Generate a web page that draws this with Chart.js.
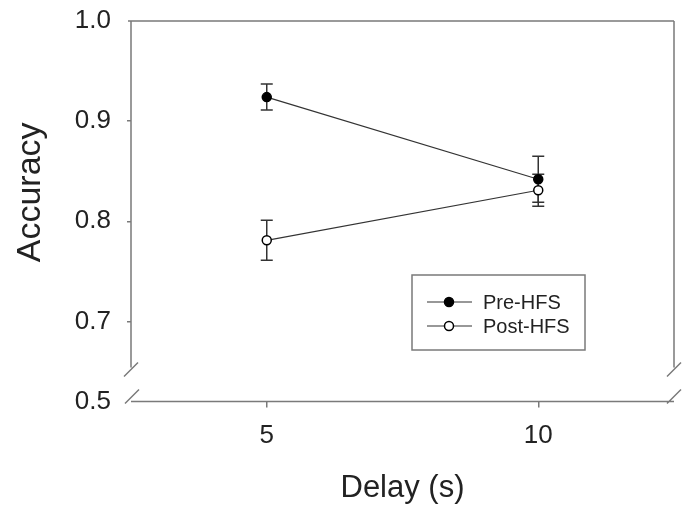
<!DOCTYPE html>
<html>
<head>
<meta charset="utf-8">
<script src="https://cdn.jsdelivr.net/npm/chart.js@4.4.1/dist/chart.umd.min.js"></script>
<style>
  html, body { margin: 0; padding: 0; background: #fff; }
  #wrap { width: 690px; height: 506px; }
</style>
</head>
<body>
<div id="wrap"><canvas id="accChart" width="690" height="506"></canvas></div>
<script>
// --- Data ---
const delays = [5, 10];
const preHFS = [0.924, 0.842];
const preErr = [0.013, 0.023];
const postHFS = [0.781, 0.831];
const postErr = [0.020, 0.016];
const yTicks = [0.62, 0.7, 0.8, 0.9, 1.0];
const yTickLabels = ['0.5', '0.7', '0.8', '0.9', '1.0'];
const xTicks = [5, 10];

const FONT = "'Liberation Sans', Arial, Helvetica, sans-serif";
const AXIS = '#7a7a7a';
const INK = '#222';

// error bars, drawn under the markers
const errorBars = {
  id: 'errorBars',
  beforeDatasetsDraw(chart) {
    const { ctx, scales: { x, y } } = chart;
    const errs = [preErr, postErr];
    ctx.save();
    ctx.strokeStyle = '#333';
    ctx.lineWidth = 1.5;
    chart.data.datasets.forEach((ds, i) => {
      ds.data.forEach((p, j) => {
        const px = x.getPixelForValue(p.x);
        const top = y.getPixelForValue(p.y + errs[i][j]);
        const bot = y.getPixelForValue(p.y - errs[i][j]);
        ctx.beginPath();
        ctx.moveTo(px, top); ctx.lineTo(px, bot);
        ctx.moveTo(px - 6, top); ctx.lineTo(px + 6, top);
        ctx.moveTo(px - 6, bot); ctx.lineTo(px + 6, bot);
        ctx.stroke();
      });
    });
    ctx.restore();
  }
};

// box frame with axis breaks
const frame = {
  id: 'frame',
  beforeDatasetsDraw(chart) {
    const { ctx, chartArea: a, scales: { y } } = chart;
    const breakY = y.getPixelForValue(0.654);
    const slash = (cx, cy) => {
      ctx.moveTo(cx - 7, cy + 7);
      ctx.lineTo(cx + 7, cy - 7);
    };
    ctx.save();
    ctx.strokeStyle = AXIS;
    ctx.lineWidth = 1.5;
    ctx.beginPath();
    // top
    ctx.moveTo(a.left - 3, a.top); ctx.lineTo(a.right, a.top);
    // left and right down to break
    ctx.moveTo(a.left, a.top); ctx.lineTo(a.left, breakY);
    ctx.moveTo(a.right, a.top); ctx.lineTo(a.right, breakY);
    // bottom
    ctx.moveTo(a.left, a.bottom); ctx.lineTo(a.right, a.bottom);
    slash(a.left, breakY + 2);
    slash(a.right, breakY + 2);
    slash(a.left + 1, a.bottom - 5);
    slash(a.right, a.bottom - 5);
    ctx.stroke();
    ctx.restore();
  }
};

// legend box
const legendBox = {
  id: 'legendBox',
  afterDatasetsDraw(chart) {
    const { ctx } = chart;
    const left = 412, top = 275, w = 173, h = 75;
    ctx.save();
    ctx.strokeStyle = AXIS;
    ctx.lineWidth = 1.5;
    ctx.strokeRect(left, top, w, h);
    ctx.font = '20px ' + FONT;
    ctx.textBaseline = 'middle';
    chart.data.datasets.forEach((ds, i) => {
      const ly = top + 27 + i * 24;
      ctx.strokeStyle = '#333';
      ctx.lineWidth = 1.2;
      ctx.beginPath();
      ctx.moveTo(left + 15, ly); ctx.lineTo(left + 60, ly);
      ctx.stroke();
      ctx.beginPath();
      ctx.arc(left + 37, ly, 4.5, 0, Math.PI * 2);
      ctx.fillStyle = ds.pointBackgroundColor;
      ctx.fill();
      ctx.lineWidth = 1.5;
      ctx.strokeStyle = '#000';
      ctx.stroke();
      ctx.fillStyle = INK;
      ctx.fillText(ds.label, left + 71, ly + 1);
    });
    ctx.restore();
  }
};

const ctx = document.getElementById('accChart').getContext('2d');

new Chart(ctx, {
  type: 'line',
  data: {
    datasets: [{
      label: 'Pre-HFS',
      data: delays.map((d, i) => ({ x: d, y: preHFS[i] })),
      borderColor: '#333',
      borderWidth: 1.2,
      pointRadius: 4.5,
      pointBackgroundColor: '#000',
      pointBorderColor: '#000',
      pointBorderWidth: 1.5,
      fill: false
    }, {
      label: 'Post-HFS',
      data: delays.map((d, i) => ({ x: d, y: postHFS[i] })),
      borderColor: '#333',
      borderWidth: 1.2,
      pointRadius: 4.5,
      pointBackgroundColor: '#fff',
      pointBorderColor: '#000',
      pointBorderWidth: 1.5,
      fill: false
    }]
  },
  options: {
    responsive: false,
    animation: false,
    layout: { padding: { top: 21, right: 16, left: 0, bottom: 0 } },
    plugins: {
      legend: { display: false },
      tooltip: { enabled: false }
    },
    scales: {
      x: {
        type: 'linear',
        min: 2.5,
        max: 12.5,
        afterBuildTicks: (axis) => { axis.ticks = xTicks.map(v => ({ value: v })); },
        afterFit: (axis) => { axis.height = 104.5; axis.paddingLeft = 0; axis.paddingRight = 0; },
        border: { display: false },
        grid: { drawOnChartArea: false, drawTicks: true, tickLength: 6, color: AXIS, lineWidth: 1.5 },
        ticks: { color: INK, font: { family: FONT, size: 26 }, padding: 13, maxRotation: 0 },
        title: {
          display: true,
          text: 'Delay (s)',
          color: INK,
          font: { family: FONT, size: 31, lineHeight: 1 },
          padding: { top: 0, bottom: 2.5 }
        }
      },
      y: {
        min: 0.62,
        max: 1.0,
        afterBuildTicks: (axis) => { axis.ticks = yTicks.map(v => ({ value: v })); },
        afterFit: (axis) => { axis.width = 131; axis.paddingTop = 0; axis.paddingBottom = 0; },
        border: { display: false },
        grid: {
          drawOnChartArea: false, drawTicks: true, tickLength: 4, lineWidth: 1.5,
          color: (c) => (c.tick && (c.tick.value === 0.62 || c.tick.value === 1.0)) ? 'rgba(0,0,0,0)' : AXIS
        },
        ticks: {
          color: INK,
          font: { family: FONT, size: 26 },
          padding: 16,
          callback: (v) => yTickLabels[yTicks.indexOf(v)]
        },
        title: {
          display: true,
          text: '    Accuracy', // leading spaces nudge the title up, as in the original
          color: INK,
          font: { family: FONT, size: 34, lineHeight: 1 },
          padding: { top: 14, bottom: 0 }
        }
      }
    }
  },
  plugins: [frame, errorBars, legendBox]
});
</script>
</body>
</html>
